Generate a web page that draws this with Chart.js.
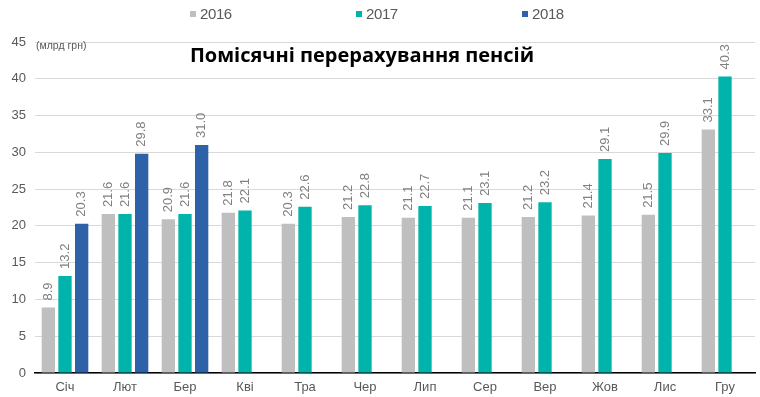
<!DOCTYPE html>
<html>
<head>
<meta charset="utf-8">
<script src="https://cdn.jsdelivr.net/npm/chart.js@4.4.1/dist/chart.umd.min.js"></script>
<style>
  html, body { margin: 0; padding: 0; background: #fff; }
  #cadre { position: relative; width: 760px; height: 397px; }
  #legende { position: absolute; left: 190px; top: 5px; height: 20px; font: 15px 'Liberation Sans', Arial, sans-serif; color: #595959; letter-spacing: -0.4px; }
  #legende .item { position: absolute; top: 0; white-space: nowrap; }
  #legende .carre { display: inline-block; width: 6px; height: 6px; margin-right: 4px; vertical-align: 2px; }
  canvas { position: absolute; left: 0; top: 0; }
</style>
</head>
<body>
<div id="cadre">
  <canvas id="graphe" width="760" height="397"></canvas>
  <div id="legende"></div>
</div>
<script>
'use strict';
/*------------------------------------*\
     Données
\*------------------------------------*/
var mois = ['Січ', 'Лют', 'Бер', 'Кві', 'Тра', 'Чер', 'Лип', 'Сер', 'Вер', 'Жов', 'Лис', 'Гру'];
var annees = ['2016', '2017', '2018'];
var valeurs2016 = [8.9, 21.6, 20.9, 21.8, 20.3, 21.2, 21.1, 21.1, 21.2, 21.4, 21.5, 33.1];
var valeurs2017 = [13.2, 21.6, 21.6, 22.1, 22.6, 22.8, 22.7, 23.1, 23.2, 29.1, 29.9, 40.3];
var valeurs2018 = [20.3, 29.8, 31.0, null, null, null, null, null, null, null, null, null];
var couleurs = ['#bfbfbf', '#00b4ab', '#2d62a9'];
var graduationsY = [0, 5, 10, 15, 20, 25, 30, 35, 40, 45];
var titre = 'Помісячні перерахування пенсій';
var unite = '(млрд грн)';

var police = "'Liberation Sans', Arial, sans-serif";

/*------------------------------------*\
     Légende (html)
\*------------------------------------*/
var legende = document.getElementById('legende');
annees.forEach(function(annee, i) {
  var item = document.createElement('span');
  item.className = 'item';
  item.style.left = (i * 166) + 'px';
  item.innerHTML = '<span class="carre" style="background:' + couleurs[i] + '"></span>' + annee;
  legende.appendChild(item);
});

/*------------------------------------*\
     Plugins : titre et étiquettes
\*------------------------------------*/
var titrePlugin = {
  id: 'titrePlugin',
  afterDraw: function(chart) {
    var ctx = chart.ctx;
    var zone = chart.chartArea;
    ctx.save();
    ctx.fillStyle = '#000';
    ctx.font = "bold 20px 'Open Sans', sans-serif";
    ctx.textAlign = 'center';
    ctx.textBaseline = 'middle';
    ctx.fillText(titre, 362, 56);
    ctx.fillStyle = '#595959';
    ctx.font = '10.5px ' + police;
    ctx.textAlign = 'left';
    ctx.fillText(unite, zone.left + 1, zone.top + 4);
    ctx.restore();
  }
};

var etiquettes = {
  id: 'etiquettes',
  afterDatasetsDraw: function(chart) {
    var ctx = chart.ctx;
    ctx.save();
    ctx.font = '13px ' + police;
    ctx.fillStyle = '#808080';
    ctx.textAlign = 'left';
    ctx.textBaseline = 'middle';
    chart.data.datasets.forEach(function(ds, i) {
      chart.getDatasetMeta(i).data.forEach(function(barre, j) {
        var v = ds.data[j];
        if (v === null || v === undefined) {
          return;
        }
        ctx.save();
        ctx.translate(barre.x, barre.y - 7);
        ctx.rotate(-Math.PI / 2);
        ctx.fillText(v.toFixed(1), 0, 0);
        ctx.restore();
      });
    });
    ctx.restore();
  }
};

/*------------------------------------*\
     Graphique
\*------------------------------------*/
var series = [valeurs2016, valeurs2017, valeurs2018];
var graphe = new Chart(document.getElementById('graphe').getContext('2d'), {
  type: 'bar',
  data: {
    labels: mois,
    datasets: series.map(function(valeurs, i) {
      return {
        label: annees[i],
        data: valeurs,
        backgroundColor: couleurs[i],
        borderWidth: 0,
        categoryPercentage: 0.833,
        barPercentage: 0.8
      };
    })
  },
  options: {
    responsive: false,
    animation: false,
    devicePixelRatio: 1,
    layout: { padding: { top: 42, right: 5, bottom: 0, left: 0 } },
    plugins: {
      legend: { display: false },
      title: { display: false },
      tooltip: { enabled: false }
    },
    scales: {
      x: {
        z: 1,
        grid: { display: false, drawTicks: false },
        border: { color: '#000', width: 1.5 },
        ticks: { color: '#595959', font: { family: police, size: 13 }, padding: 7 },
        afterFit: function(s) { s.height = 24; }
      },
      y: {
        min: graduationsY[0],
        max: graduationsY[graduationsY.length - 1],
        afterBuildTicks: function(s) {
          s.ticks = graduationsY.map(function(v) { return { value: v }; });
        },
        grid: { color: '#d9d9d9', lineWidth: 1, drawTicks: false },
        border: { display: false },
        ticks: { color: '#595959', font: { family: police, size: 13 }, padding: 9 },
        afterFit: function(s) { s.width = 35; }
      }
    }
  },
  plugins: [titrePlugin, etiquettes]
});
</script>
</body>
</html>
